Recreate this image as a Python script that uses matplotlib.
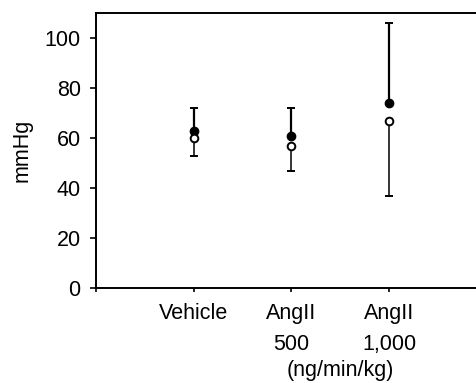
import numpy as np
import matplotlib.pyplot as plt

plt.rcParams['font.family'] = ['Liberation Sans', 'DejaVu Sans']

groups = ["Vehicle", "AngII\n500", "AngII\n1,000"]
filled_mean = [63, 61, 74]
filled_upper = [72, 72, 106]
open_mean = [60, 57, 67]
open_lower = [53, 47, 37]

x = np.arange(1, len(groups) + 1)

fig = plt.figure(figsize=(4.77, 3.83), dpi=100)
ax = fig.add_axes([0.2013, 0.248, 0.7987, 0.718])

up_err = np.array(filled_upper) - np.array(filled_mean)
lo_err = np.array(open_mean) - np.array(open_lower)

ax.errorbar(x, filled_mean, yerr=[np.zeros_like(up_err), up_err], fmt='o',
            color='black', ms=6, elinewidth=1.6, capsize=2.6, capthick=1.4, zorder=3)
ax.errorbar(x, open_mean, yerr=[lo_err, np.zeros_like(lo_err)], fmt='o',
            color='black', mfc='white', mec='black', mew=1.4, ms=5.5, elinewidth=1.1,
            capsize=2.6, capthick=1.2, zorder=4)

ax.set_xlim(0, 3.9)
ax.set_ylim(0, 110)
ax.set_yticks([0, 20, 40, 60, 80, 100])
ax.set_xticks([0, 1, 2, 3])
ax.set_xticklabels([""] + groups, fontsize=15.5, linespacing=1.6)
ax.tick_params(axis='y', labelsize=15.5, length=4, width=1.2, pad=7)
ax.tick_params(axis='x', length=3, width=1.2, pad=8)
ax.set_ylabel("mmHg", fontsize=15.5, labelpad=9)

ax.text(2.5, -0.30, "(ng/min/kg)", transform=ax.get_xaxis_transform(),
        ha='center', va='center', fontsize=15.5)

ax.spines['right'].set_visible(False)
for s in ['left', 'bottom', 'top']:
    ax.spines[s].set_linewidth(1.4)

fig.savefig("out.png", dpi=100)
